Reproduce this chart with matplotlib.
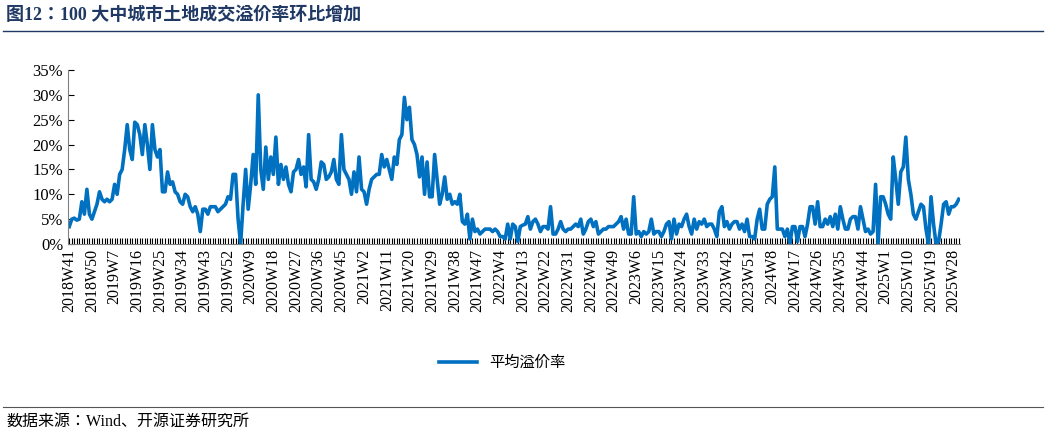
import matplotlib
matplotlib.use("Agg")
import matplotlib.pyplot as plt
from matplotlib.lines import Line2D
from matplotlib import font_manager as fm

cjk = None
for f in fm.fontManager.ttflist:
    if "CJK" in f.name and ("SC" in f.name or cjk is None):
        cjk = f.name
        if "SC" in f.name:
            break
if cjk is None:
    for f in fm.findSystemFonts():
        if "CJK" in f or "cjk" in f.lower():
            fm.fontManager.addfont(f)
    for f in fm.fontManager.ttflist:
        if "CJK" in f.name:
            cjk = f.name
            break

seg_2018_2019 = [3.5,5,5.2,4.8,5,8.5,6,11,6,
                 5,6.5,8,10.5,9,8.5,9,8.5,9,
                 12,10,14,15,19,24,19,17,24.5,
                 24,22,18,24,20,15,24,19,17.5,
                 19,10.5,10.5,14.5,12,12.5,10.5,10,8.5,
                 8,10,9.5,7.5,6.5,7.5,6,2.5,7,
                 7,6,7.5,7.5,7.5,6.5,7,7.5,8]
seg_2020 = [9.5,9,14,14,5,0,8,15,7,
            12,18,12,30,15,11,19.5,13,17.5,
            14,21.5,12,16,13,15.5,12,10.5,14.5,
            15,17,14,15.5,11.5,22,13,12.5,11,
            13,16.5,16,13,13.5,14.5,17,13,12,
            22,15,14,13,10,14.5,10.5,17.5,11]
seg_2021 = [10.5,8,11,13,13.5,14,14,18,15.5,
            17,15,13,17.5,16,21,22,29.5,25,
            27.5,21,20,18,13.5,17.5,10,16.5,9.5,
            9.5,18,13,8,10,13.5,9,10,8,
            8.5,8,10,4.5,4,6,1,5,2.5,
            3,2,2.5,3,3,3,2.5,3,2.5]
seg_2022_2023 = [1.5,1.5,1,4,1,4,3.5,0.5,3.5,
                 3.8,4,5.5,3,4.5,5,4,2.5,3.5,
                 3.5,3,7.5,2,2,3,4.5,3,2.5,
                 3,3,3.5,4,3.5,5,2,3,4.5,
                 5,3.5,4.5,2,2.5,3,3,3.5,3.5,
                 3.5,4,4.5,5.5,3,5,2,2,9.5,
                 2,2.5,1.5,2.5,2,2.5,5,2,2.5,
                 2.5,1.5,2.5,4,4.5,1,5,2,4,
                 3.5,5,6,3.5,2,5,3,4.5,4,
                 5,3.5,4,4,3,1.5,6.5,7.5,3.5]
seg_2023_2025 = [4.5,3,4,4.5,4.5,3,4,2.5,5,1.5,1.5,1,5,7,3,3,8,9,9.5,15.5,
                 3,3,3,1.5,3,0,3.5,3.5,0.5,3.5,3.5,1.5,4,7.5,7.5,4,8.5,3.5,3.5,5,
                 4,5.5,3.5,6,3,7.5,5,3,3,5,5.5,5.5,3,7.5,5,2.5,3,2,2.5,12,
                 0,9.5,9.5,8,6,5,17.5,13,8,14.5,15.5,21.5,13,10,6,5,6.5,8,7.5,3,
                 0,9.5,4,0,0.5,4,8,8.5,6,7.5,7.5,8,9]
values = seg_2018_2019 + seg_2020 + seg_2021 + seg_2022_2023 + seg_2023_2025

start_year, start_week = 2018, 41
weeks = []
y, w = start_year, start_week
for _ in values:
    weeks.append(f"{y}W{w}")
    w += 1
    if w > 52:
        w = 1; y += 1

fams = ["Liberation Serif"] + ([cjk] if cjk else [])
plt.rcParams["font.family"] = fams
fig = plt.figure(figsize=(10.46, 4.36), dpi=100)
ax = fig.add_axes([68/1046, 1-244/436, (960-68)/1046, (244-70)/436])
x = list(range(len(values)))
ax.plot(x, values, color="#0070C0", lw=2.6)
ax.set_xlim(-0.5, len(values) - 0.5)
ax.set_ylim(0, 35)
ax.set_yticks(range(0, 36, 5))
ax.set_yticklabels([f"{v}%" for v in range(0, 36, 5)], fontsize=12)
ax.set_xticks(x[::9])
ax.set_xticklabels(weeks[::9], rotation=90, fontsize=11.5)
ax.set_xticks(x, minor=True)
ax.tick_params(axis="x", which="both", direction="in", length=4, width=0.8)
ax.tick_params(axis="y", direction="in", length=4)
for s in ["top", "right"]:
    ax.spines[s].set_visible(False)
ax.spines["left"].set_color("#808080")
ax.spines["bottom"].set_color("#808080")

fig.legend(handles=[Line2D([], [], color="#0070C0", lw=2.6)], labels=["平均溢价率"],
           loc="center", bbox_to_anchor=(0.48, 1-363/436), frameon=False,
           prop={"family": fams, "size": 11}, handlelength=2.5)

fig.text(6/1046, 1-15/436, "图12：100 大中城市土地成交溢价率环比增加", fontsize=13,
         fontweight="bold", color="#1F3864", va="center", family=fams)
fig.add_artist(Line2D([0.003, 0.997], [1-31/436, 1-31/436], color="#1F3864", lw=1))
fig.add_artist(Line2D([0.003, 0.997], [1-407/436, 1-407/436], color="#555555", lw=0.8))
fig.text(6/1046, 1-422/436, "数据来源：Wind、开源证券研究所", fontsize=11.5, va="center",
         family=fams)
fig.savefig("out.png", dpi=100)
